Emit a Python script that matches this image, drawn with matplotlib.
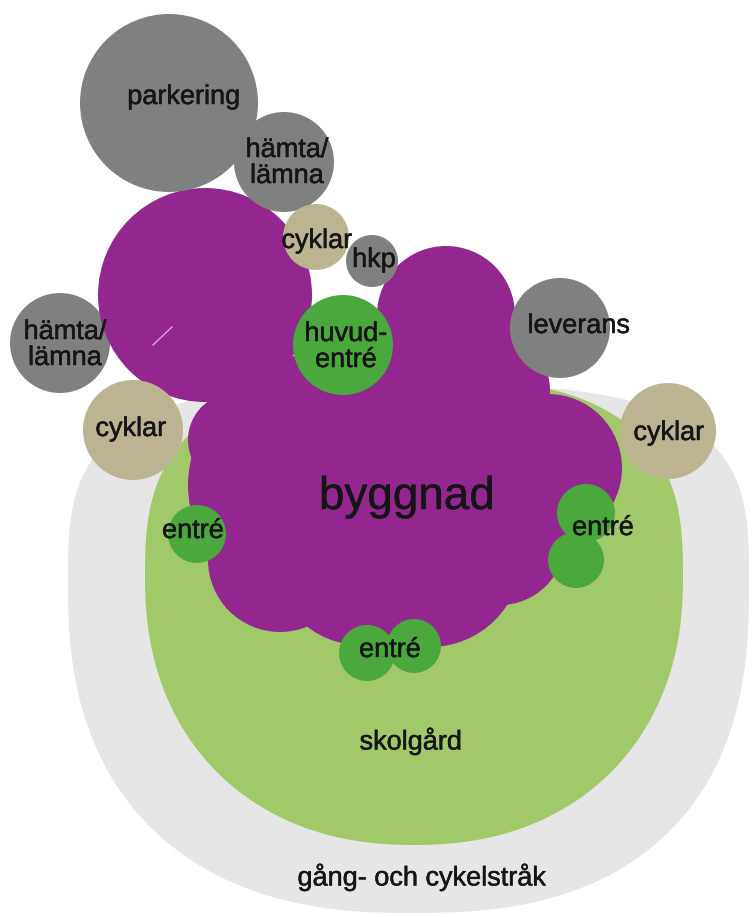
import numpy as np
import matplotlib
matplotlib.use("Agg")
import matplotlib.pyplot as plt
import matplotlib.patheffects as pe
from matplotlib.patches import Circle, Polygon

plt.rcParams['font.family'] = ['Liberation Sans', 'DejaVu Sans']

# --- data (image pixel coords, y down) ---
# zones are rounded blobs: centre, radii (left, right), (top, bottom), exponent per quadrant (TL, TR, BL, BR)
path_centre = (411, 585)
path_rx = (343, 338)
path_ry = (200, 328)
path_n = (3.3, 3.3, 2.4, 2.5)

yard_centre = (414, 578)
yard_rx = (269, 269)
yard_ry = (200, 267)
yard_n = (2.8, 2.8, 2.2, 2.2)

# byggnad: union of circles
bldg_x = [205, 446, 495, 235, 340, 296, 392, 300, 280, 360, 430, 500, 548, 430]
bldg_y = [295, 315, 390, 440, 410, 380, 378, 485, 560, 560, 555, 540, 468, 455]
bldg_r = [107, 69, 55, 47, 62, 24, 22, 112, 72, 85, 92, 65, 74, 90]

# entréer
entre_x = [343, 197, 586, 576, 367, 414]
entre_y = [345, 534, 513, 560, 653, 646]
entre_r = [50, 29, 29, 28, 28, 27]

# grey service nodes
grey_names = ["parkering", "hämta top", "hämta left", "hkp", "leverans"]
grey_x = [169, 284, 60, 372, 560]
grey_y = [103, 162, 343, 261, 328]
grey_r = [89, 50, 50, 26, 50]

# cykelparkering
bike_x = [316, 133, 668]
bike_y = [237, 430, 431]
bike_r = [33, 50, 48]

# labels
label_text = ["parkering", "hämta/\nlämna", "hämta/\nlämna", "cyklar", "hkp",
              "huvud-\nentré", "leverans", "cyklar", "cyklar", "entré", "entré",
              "entré", "skolgård", "gång- och cykelstråk"]
label_x = [184, 287, 65, 317, 374, 346, 579, 131, 669, 193, 603, 390, 411, 422]
label_y = [97, 163, 345, 241, 260, 347, 326, 429, 433, 531, 528, 650, 741, 877]

PURPLE = "#93278f"
GREEN = "#4ba83d"
LIGHTGREEN = "#a1c96a"
LIGHTGREY = "#e6e6e6"
GREY = "#7f8180"
BEIGE = "#bcb491"
TXT = "#151515"


def blob(centre, rxs, rys, ns, npts=721):
    cx, cy = centre
    t = np.linspace(0, 2 * np.pi, npts)
    c, s = np.cos(t), np.sin(t)
    rx = np.where(c >= 0, rxs[1], rxs[0])
    ry = np.where(s >= 0, rys[1], rys[0])
    n = np.select([(s < 0) & (c < 0), (s < 0) & (c >= 0), (s >= 0) & (c < 0)],
                  [ns[0], ns[1], ns[2]], ns[3])
    px = cx + rx * np.sign(c) * np.abs(c) ** (2 / n)
    py = cy + ry * np.sign(s) * np.abs(s) ** (2 / n)
    return np.column_stack([px, py])


fig = plt.figure(figsize=(7.52, 9.17), dpi=100)
ax = fig.add_axes([0, 0, 1, 1])
ax.set_xlim(0, 752)
ax.set_ylim(917, 0)
ax.axis("off")

ax.add_patch(Polygon(blob(path_centre, path_rx, path_ry, path_n), closed=True,
                     fc=LIGHTGREY, ec="none", zorder=1))
ax.add_patch(Polygon(blob(yard_centre, yard_rx, yard_ry, yard_n), closed=True,
                     fc=LIGHTGREEN, ec="none", zorder=2))

# grey nodes (left hämta/lämna sits under the building)
for name, x, y, r in zip(grey_names, grey_x, grey_y, grey_r):
    z = 3 if name == "hämta left" else 5
    ax.add_patch(Circle((x, y), r, fc=GREY, ec="none", zorder=z))

# building
for x, y, r in zip(bldg_x, bldg_y, bldg_r):
    ax.add_patch(Circle((x, y), r, fc=PURPLE, ec="none", zorder=4))
ax.plot([153, 172], [345, 327], color="#d6a6d4", lw=1, zorder=4.5)

for x, y, r in zip(bike_x, bike_y, bike_r):
    ax.add_patch(Circle((x, y), r, fc=BEIGE, ec="none", zorder=5))

for x, y, r in zip(entre_x, entre_y, entre_r):
    ax.add_patch(Circle((x, y), r, fc=GREEN, ec="none", zorder=6))

thick = [pe.withStroke(linewidth=0.35, foreground=TXT)]
for s_, x, y in zip(label_text, label_x, label_y):
    ax.text(x, y, s_, ha="center", va="center", fontsize=19.5, color=TXT,
            linespacing=1.0, zorder=10, path_effects=thick)

ax.text(407, 497, "byggnad", ha="center", va="center", fontsize=33, color=TXT,
        zorder=10, path_effects=thick)

fig.savefig("out.png", dpi=100)
